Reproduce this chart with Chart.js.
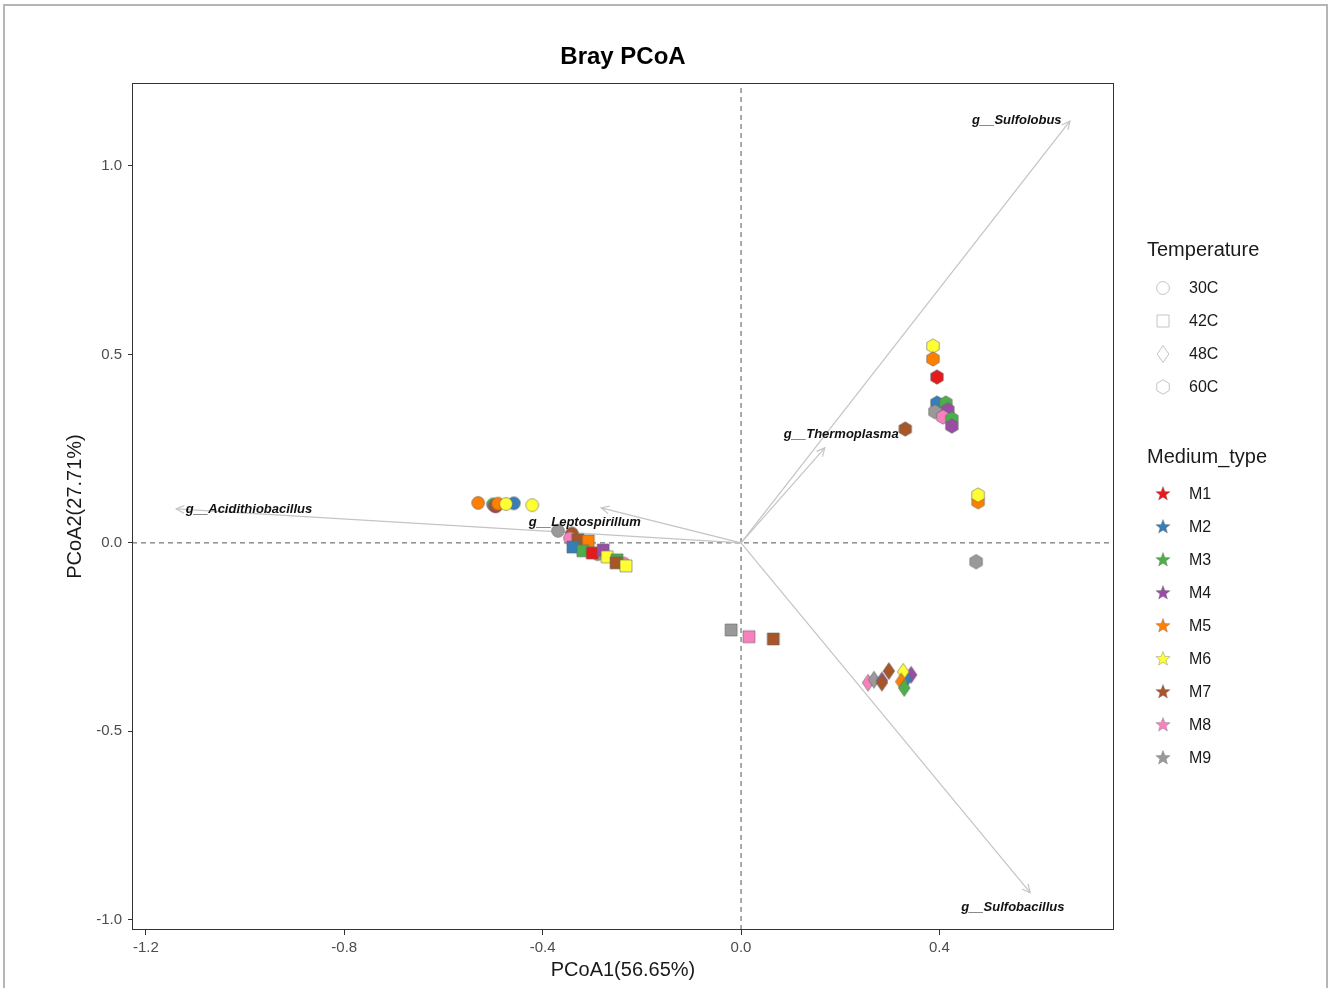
<!DOCTYPE html>
<html>
<head>
<meta charset="utf-8">
<script src="https://cdn.jsdelivr.net/npm/chart.js@4.4.0/dist/chart.umd.min.js"></script>
<style>
  html, body { margin: 0; padding: 0; background: #fff; }
  #wrap { width: 1330px; height: 988px; position: relative; }
</style>
</head>
<body>
<div id="wrap"><canvas id="pcoa" width="1330" height="988"></canvas></div>
<script>
// Paleta de colores por medio (Set1)
const mediums = ['M1', 'M2', 'M3', 'M4', 'M5', 'M6', 'M7', 'M8', 'M9'];
const mediumColors = ['#E41A1C', '#377EB8', '#4DAF4A', '#984EA3', '#FF7F00', '#FFFF33', '#A65628', '#F781BF', '#999999'];
const temperatures = ['30C', '42C', '48C', '60C'];

// Muestras a 30C (círculos)
const t30X = [-0.530, -0.458, -0.500, -0.497, -0.494, -0.494, -0.490, -0.474, -0.421, -0.369, -0.341, -0.345, -0.289, -0.236];
const t30Y = [0.106, 0.105, 0.102, 0.098, 0.097, 0.100, 0.104, 0.103, 0.100, 0.032, 0.025, 0.012, -0.030, -0.055];
const t30M = ['M5', 'M2', 'M3', 'M4', 'M1', 'M7', 'M5', 'M6', 'M6', 'M9', 'M7', 'M8', 'M9', 'M8'];

// Muestras a 42C (cuadrados)
const t42X = [-0.329, -0.308, -0.339, -0.319, -0.300, -0.278, -0.270, -0.250, -0.252, -0.232, -0.020, 0.016, 0.065];
const t42Y = [0.008, 0.005, -0.011, -0.021, -0.027, -0.019, -0.037, -0.045, -0.053, -0.061, -0.231, -0.249, -0.255];
const t42M = ['M7', 'M5', 'M2', 'M3', 'M1', 'M4', 'M6', 'M3', 'M7', 'M6', 'M9', 'M8', 'M7'];

// Muestras a 48C (rombos)
const t48X = [0.256, 0.268, 0.284, 0.284, 0.298, 0.343, 0.333, 0.327, 0.323, 0.329];
const t48Y = [-0.371, -0.363, -0.365, -0.371, -0.340, -0.350, -0.362, -0.342, -0.368, -0.385];
const t48M = ['M8', 'M9', 'M4', 'M7', 'M7', 'M4', 'M2', 'M6', 'M5', 'M3'];

// Muestras a 60C (hexágonos)
const t60X = [0.387, 0.387, 0.395, 0.395, 0.413, 0.391, 0.417, 0.407, 0.425, 0.425, 0.331, 0.478, 0.478, 0.474];
const t60Y = [0.522, 0.488, 0.440, 0.371, 0.371, 0.348, 0.353, 0.334, 0.329, 0.310, 0.302, 0.109, 0.127, -0.050];
const t60M = ['M6', 'M5', 'M1', 'M2', 'M3', 'M9', 'M4', 'M8', 'M3', 'M4', 'M7', 'M5', 'M6', 'M9'];

// Vectores de géneros (biplot)
const taxa = ['g__Sulfolobus', 'g__Thermoplasma', 'g__Sulfobacillus', 'g__Acidithiobacillus', 'g__Leptospirillum'];
const taxaX = [0.663, 0.169, 0.583, -1.139, -0.282];
const taxaY = [1.119, 0.252, -0.928, 0.090, 0.093];
const taxaLabelX = [0.556, 0.202, 0.548, -0.992, -0.315];
const taxaLabelY = [1.122, 0.289, -0.966, 0.090, 0.053];

// Ejes
const xTicks = [-1.2, -0.8, -0.4, 0.0, 0.4];
const yTicks = [-1.0, -0.5, 0.0, 0.5, 1.0];
const xRange = [-1.228, 0.752];
const yRange = [-1.027, 1.220];

const FONT = 'Liberation Sans, Arial, Helvetica, sans-serif';

// Dibuja la forma de un punto sobre un contexto
function shapePath(ctx, kind, cx, cy) {
    ctx.beginPath();
    if (kind === 'circle') {
        ctx.arc(cx, cy, 6.4, 0, Math.PI * 2);
    } else if (kind === 'square') {
        ctx.rect(cx - 6, cy - 6, 12, 12);
    } else if (kind === 'diamond') {
        ctx.moveTo(cx, cy - 8.5);
        ctx.lineTo(cx + 5.8, cy);
        ctx.lineTo(cx, cy + 8.5);
        ctx.lineTo(cx - 5.8, cy);
        ctx.closePath();
    } else if (kind === 'hexagon') {
        // Hexágono con vértice arriba
        for (let i = 0; i < 6; i++) {
            const a = -Math.PI / 2 + i * Math.PI / 3;
            const px = cx + 7.2 * Math.cos(a);
            const py = cy + 7.2 * Math.sin(a);
            if (i === 0) ctx.moveTo(px, py); else ctx.lineTo(px, py);
        }
        ctx.closePath();
    }
}

// Cache de imágenes para pointStyle
const shapeCache = {};
function shapeImage(kind, color) {
    const key = kind + color;
    if (shapeCache[key]) return shapeCache[key];
    const c = document.createElement('canvas');
    c.width = 22; c.height = 22;
    const g = c.getContext('2d');
    shapePath(g, kind, 11, 11);
    g.fillStyle = color;
    g.fill();
    g.lineWidth = 0.6;
    g.strokeStyle = '#666';
    g.stroke();
    shapeCache[key] = c;
    return c;
}

function buildPoints(xs, ys, ms) {
    return xs.map((x, i) => ({ x: x, y: ys[i], m: ms[i] }));
}

function colorOf(m) {
    return mediumColors[mediums.indexOf(m)];
}

function pointDataset(label, kind, xs, ys, ms, order) {
    return {
        type: 'scatter',
        label: label,
        data: buildPoints(xs, ys, ms),
        pointStyle: ctx => shapeImage(kind, colorOf(ctx.raw ? ctx.raw.m : 'M1')),
        pointRadius: 7,
        order: order
    };
}

// Líneas de referencia discontinuas
const refLines = [
    { type: 'line', data: [{ x: xRange[0], y: 0 }, { x: xRange[1], y: 0 }] },
    { type: 'line', data: [{ x: 0, y: yRange[0] }, { x: 0, y: yRange[1] }] }
].map(d => Object.assign(d, {
    borderColor: '#555', borderWidth: 1, borderDash: [5, 4],
    pointRadius: 0, fill: false, order: 20
}));

// Flechas del biplot
const arrowLines = taxa.map((t, i) => ({
    type: 'line',
    label: t,
    data: [{ x: 0, y: 0 }, { x: taxaX[i], y: taxaY[i] }],
    borderColor: '#c4c4c4', borderWidth: 1.2,
    pointRadius: 0, fill: false, order: 15
}));

// Plugin: marco, puntas de flecha, etiquetas y leyenda
const decorPlugin = {
    id: 'decor',
    beforeDraw(chart) {
        const ctx = chart.ctx;
        ctx.save();
        ctx.fillStyle = '#fff';
        ctx.fillRect(0, 0, chart.width, chart.height);
        ctx.strokeStyle = '#b5b5b5';
        ctx.lineWidth = 2;
        ctx.strokeRect(4, 5, 1323, 1000);
        ctx.restore();
    },
    afterDatasetsDraw(chart) {
        const ctx = chart.ctx;
        const xs = chart.scales.x, ys = chart.scales.y;
        ctx.save();
        // Puntas de flecha
        ctx.strokeStyle = '#c4c4c4';
        ctx.lineWidth = 1.2;
        taxa.forEach((t, i) => {
            const x0 = xs.getPixelForValue(0), y0 = ys.getPixelForValue(0);
            const x1 = xs.getPixelForValue(taxaX[i]), y1 = ys.getPixelForValue(taxaY[i]);
            const ang = Math.atan2(y1 - y0, x1 - x0);
            const len = 9;
            ctx.beginPath();
            ctx.moveTo(x1 - len * Math.cos(ang - 0.45), y1 - len * Math.sin(ang - 0.45));
            ctx.lineTo(x1, y1);
            ctx.lineTo(x1 - len * Math.cos(ang + 0.45), y1 - len * Math.sin(ang + 0.45));
            ctx.stroke();
        });
        // Etiquetas de géneros
        ctx.fillStyle = '#111';
        ctx.font = 'italic bold 13px ' + FONT;
        ctx.textAlign = 'center';
        ctx.textBaseline = 'middle';
        taxa.forEach((t, i) => {
            ctx.fillText(t, xs.getPixelForValue(taxaLabelX[i]), ys.getPixelForValue(taxaLabelY[i]));
        });
        ctx.restore();
    },
    afterDraw(chart) {
        const ctx = chart.ctx;
        const a = chart.chartArea;
        ctx.save();
        // Marco del panel
        ctx.strokeStyle = '#333';
        ctx.lineWidth = 1;
        ctx.strokeRect(a.left + 0.5, a.top + 0.5, a.right - a.left - 1, a.bottom - a.top - 1);

        // Leyenda: temperatura
        const lx = 1147, sx = 1163, tx = 1189;
        ctx.fillStyle = '#1a1a1a';
        ctx.textAlign = 'left';
        ctx.textBaseline = 'middle';
        ctx.font = '20px ' + FONT;
        ctx.fillText('Temperature', lx, 250);
        const kinds = ['circle', 'square', 'diamond', 'hexagon'];
        ctx.font = '16px ' + FONT;
        temperatures.forEach((t, i) => {
            const y = 288 + i * 33;
            shapePath(ctx, kinds[i], sx, y);
            ctx.strokeStyle = '#c4c4c4';
            ctx.lineWidth = 1;
            ctx.stroke();
            ctx.fillStyle = '#1a1a1a';
            ctx.fillText(t, tx, y + 1);
        });

        // Leyenda: medio
        ctx.font = '20px ' + FONT;
        ctx.fillText('Medium_type', lx, 457);
        ctx.font = '16px ' + FONT;
        mediums.forEach((m, i) => {
            const y = 494 + i * 33;
            ctx.beginPath();
            for (let k = 0; k < 10; k++) {
                const r = k % 2 === 0 ? 7.5 : 3.2;
                const ang = -Math.PI / 2 + k * Math.PI / 5;
                const px = sx + r * Math.cos(ang), py = y + r * Math.sin(ang);
                if (k === 0) ctx.moveTo(px, py); else ctx.lineTo(px, py);
            }
            ctx.closePath();
            ctx.fillStyle = mediumColors[i];
            ctx.fill();
            ctx.strokeStyle = '#777';
            ctx.lineWidth = 0.4;
            ctx.stroke();
            ctx.fillStyle = '#1a1a1a';
            ctx.fillText(m, tx, y + 1);
        });
        ctx.restore();
    }
};

const ctx = document.getElementById('pcoa').getContext('2d');
new Chart(ctx, {
    type: 'scatter',
    data: {
        datasets: [
            pointDataset('60C', 'hexagon', t60X, t60Y, t60M, 1),
            pointDataset('48C', 'diamond', t48X, t48Y, t48M, 2),
            pointDataset('42C', 'square', t42X, t42Y, t42M, 3),
            pointDataset('30C', 'circle', t30X, t30Y, t30M, 4),
            ...arrowLines,
            ...refLines
        ]
    },
    options: {
        responsive: false,
        animation: false,
        layout: { padding: { left: 0, right: 216, top: 0, bottom: 0 } },
        plugins: {
            legend: { display: false },
            tooltip: { enabled: false },
            title: {
                display: true,
                text: 'Bray PCoA',
                fullSize: false,
                color: '#000',
                font: { family: FONT, size: 24, weight: 'bold', lineHeight: 1.2 },
                padding: { top: 43, bottom: 11.2 }
            }
        },
        scales: {
            x: {
                type: 'linear',
                min: xRange[0],
                max: xRange[1],
                afterBuildTicks: s => { s.ticks = xTicks.map(v => ({ value: v })); },
                afterFit: s => { s.height = 58; },
                grid: { display: true, drawOnChartArea: false, drawTicks: true, tickLength: 5, color: '#333' },
                border: { display: false },
                ticks: {
                    padding: 4,
                    color: '#4d4d4d',
                    font: { family: FONT, size: 15 },
                    callback: v => Number(v).toFixed(1)
                },
                title: {
                    display: true,
                    text: 'PCoA1(56.65%)',
                    color: '#1a1a1a',
                    font: { family: FONT, size: 20, lineHeight: 1.2 },
                    padding: { top: 0, bottom: 6 }
                }
            },
            y: {
                type: 'linear',
                min: yRange[0],
                max: yRange[1],
                afterBuildTicks: s => { s.ticks = yTicks.map(v => ({ value: v })); },
                afterFit: s => { s.width = 132; },
                grid: { display: true, drawOnChartArea: false, drawTicks: true, tickLength: 4, color: '#333' },
                border: { display: false },
                ticks: {
                    padding: 6,
                    color: '#4d4d4d',
                    font: { family: FONT, size: 15 },
                    callback: v => Number(v).toFixed(1)
                },
                title: {
                    display: true,
                    text: 'PCoA2(27.71%)',
                    color: '#1a1a1a',
                    font: { family: FONT, size: 20, lineHeight: 1.2 },
                    padding: { top: 63, bottom: 0 }
                }
            }
        }
    },
    plugins: [decorPlugin]
});
</script>
</body>
</html>
